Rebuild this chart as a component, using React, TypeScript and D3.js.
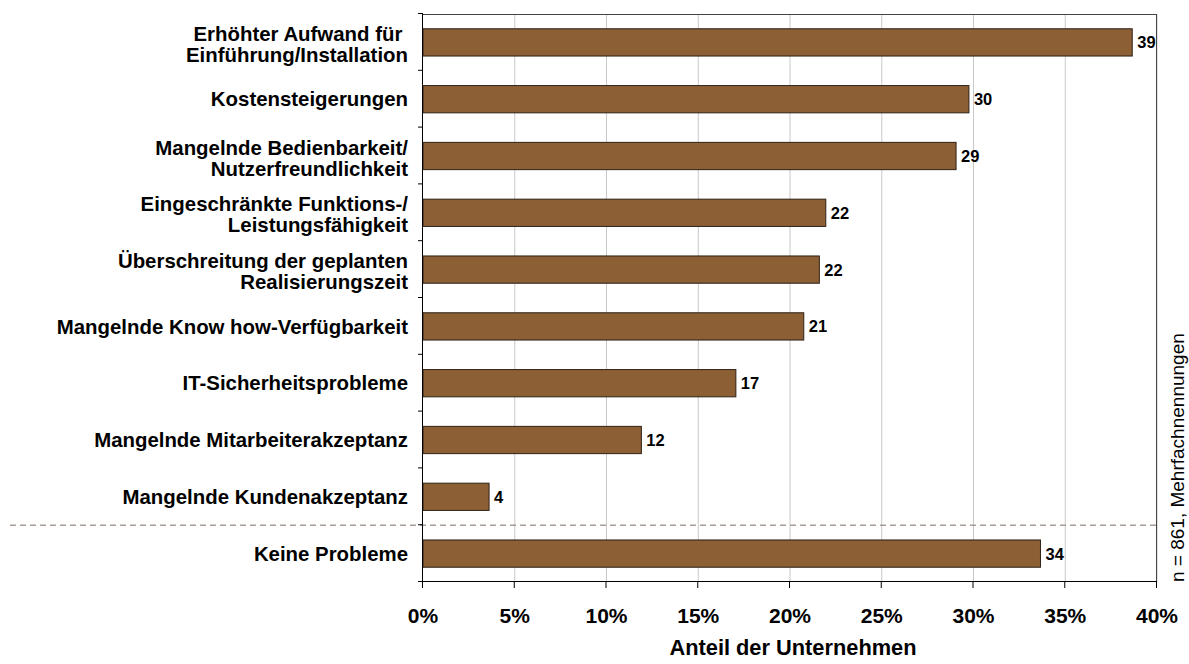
import * as React from "react";
import * as d3 from "d3";

const CATEGORIES: string[][] = [
  ["Erhöhter Aufwand für\u00A0", "Einführung/Installation"],
  ["Kostensteigerungen"],
  ["Mangelnde Bedienbarkeit/", "Nutzerfreundlichkeit"],
  ["Eingeschränkte Funktions-/", "Leistungsfähigkeit"],
  ["Überschreitung der geplanten", "Realisierungszeit"],
  ["Mangelnde Know how-Verfügbarkeit"],
  ["IT-Sicherheitsprobleme"],
  ["Mangelnde Mitarbeiterakzeptanz"],
  ["Mangelnde Kundenakzeptanz"],
  ["Keine Probleme"],
];
const VALUES = [38.65, 29.75, 29.05, 21.95, 21.6, 20.75, 17.05, 11.9, 3.6, 33.65];
const VALUE_LABELS = ["39", "30", "29", "22", "22", "21", "17", "12", "4", "34"];
const X_TICKS = [0, 5, 10, 15, 20, 25, 30, 35, 40];

const W = 1189;
const H = 664;
const M = { left: 423, right: 1157, top: 14, bottom: 582 };
const FONT = "Arial, 'Liberation Sans', sans-serif";

export default function App() {
  const x = d3.scaleLinear().domain([0, 40]).range([M.left, M.right]);
  const y = d3
    .scaleBand<number>()
    .domain(CATEGORIES.map((_, i) => i))
    .range([M.top, M.bottom])
    .paddingInner(0.52)
    .paddingOuter(0.26);
  const step = y.step();
  const boundaries = d3.range(CATEGORIES.length + 1).map((i) => M.top + i * step);
  const dashY = M.top + 9 * step;

  return (
    <svg
      width={W}
      height={H}
      style={{ position: "absolute", left: 0, top: 0, background: "#fff" }}
      fontFamily={FONT}
    >
      {/* grid */}
      {X_TICKS.slice(1).map((t) => (
        <line key={t} x1={x(t)} x2={x(t)} y1={M.top} y2={M.bottom} stroke="#c8c8c8" strokeWidth={1} />
      ))}
      {/* frame top/right */}
      <line x1={M.left} x2={M.right} y1={M.top + 0.5} y2={M.top + 0.5} stroke="#444" />
      <line x1={M.right - 0.5} x2={M.right - 0.5} y1={M.top} y2={M.bottom} stroke="#444" />

      {/* bars */}
      {VALUES.map((v, i) => (
        <rect
          key={i}
          x={x(0)}
          y={y(i)}
          width={x(v) - x(0)}
          height={y.bandwidth()}
          fill="#8c5f34"
          stroke="#2e2116"
          strokeWidth={1}
        />
      ))}
      {VALUES.map((v, i) => (
        <text
          key={i}
          x={x(v) + 5}
          y={(y(i) as number) + y.bandwidth() / 2}
          dy="0.36em"
          fontSize={16.5}
          fontWeight="bold"
          fill="#000"
        >
          {VALUE_LABELS[i]}
        </text>
      ))}

      {/* dashed separator */}
      <line
        x1={10}
        x2={M.right - 1}
        y1={dashY}
        y2={dashY}
        stroke="#a89c94"
        strokeWidth={1.5}
        strokeDasharray="6 4"
      />

      {/* axes */}
      <line x1={M.left - 0.5} x2={M.left - 0.5} y1={M.top} y2={M.bottom + 5} stroke="#000" />
      <line x1={M.left - 5} x2={M.right} y1={M.bottom - 0.5} y2={M.bottom - 0.5} stroke="#000" />
      {boundaries.map((b, i) => (
        <line key={i} x1={M.left - 5} x2={M.left} y1={b - 0.5} y2={b - 0.5} stroke="#000" />
      ))}
      {X_TICKS.map((t) => (
        <g key={t}>
          <line x1={x(t) - 0.5} x2={x(t) - 0.5} y1={M.bottom} y2={M.bottom + 6} stroke="#000" />
          <text x={x(t)} y={623} textAnchor="middle" fontSize={21} fontWeight="bold">
            {t}%
          </text>
        </g>
      ))}

      {/* category labels */}
      {CATEGORIES.map((lines, i) => {
        const cy = (y(i) as number) + y.bandwidth() / 2;
        const lh = 21;
        const start = cy - ((lines.length - 1) * lh) / 2 + (lines.length > 1 ? 2 : 0);
        return (
          <text key={i} textAnchor="end" fontSize={20.4} fontWeight="bold" fill="#000">
            {lines.map((l, j) => (
              <tspan key={j} x={408} y={start + j * lh} dy="0.35em">
                {l}
              </tspan>
            ))}
          </text>
        );
      })}

      <text x={(M.left + M.right) / 2 + 3} y={655} textAnchor="middle" fontSize={21.8} fontWeight="bold">
        Anteil der Unternehmen
      </text>

      <text
        transform={`translate(1184, ${M.bottom}) rotate(-90)`}
        textAnchor="start"
        fontSize={19}
        fill="#000"
      >
        n = 861, Mehrfachnennungen
      </text>
    </svg>
  );
}
